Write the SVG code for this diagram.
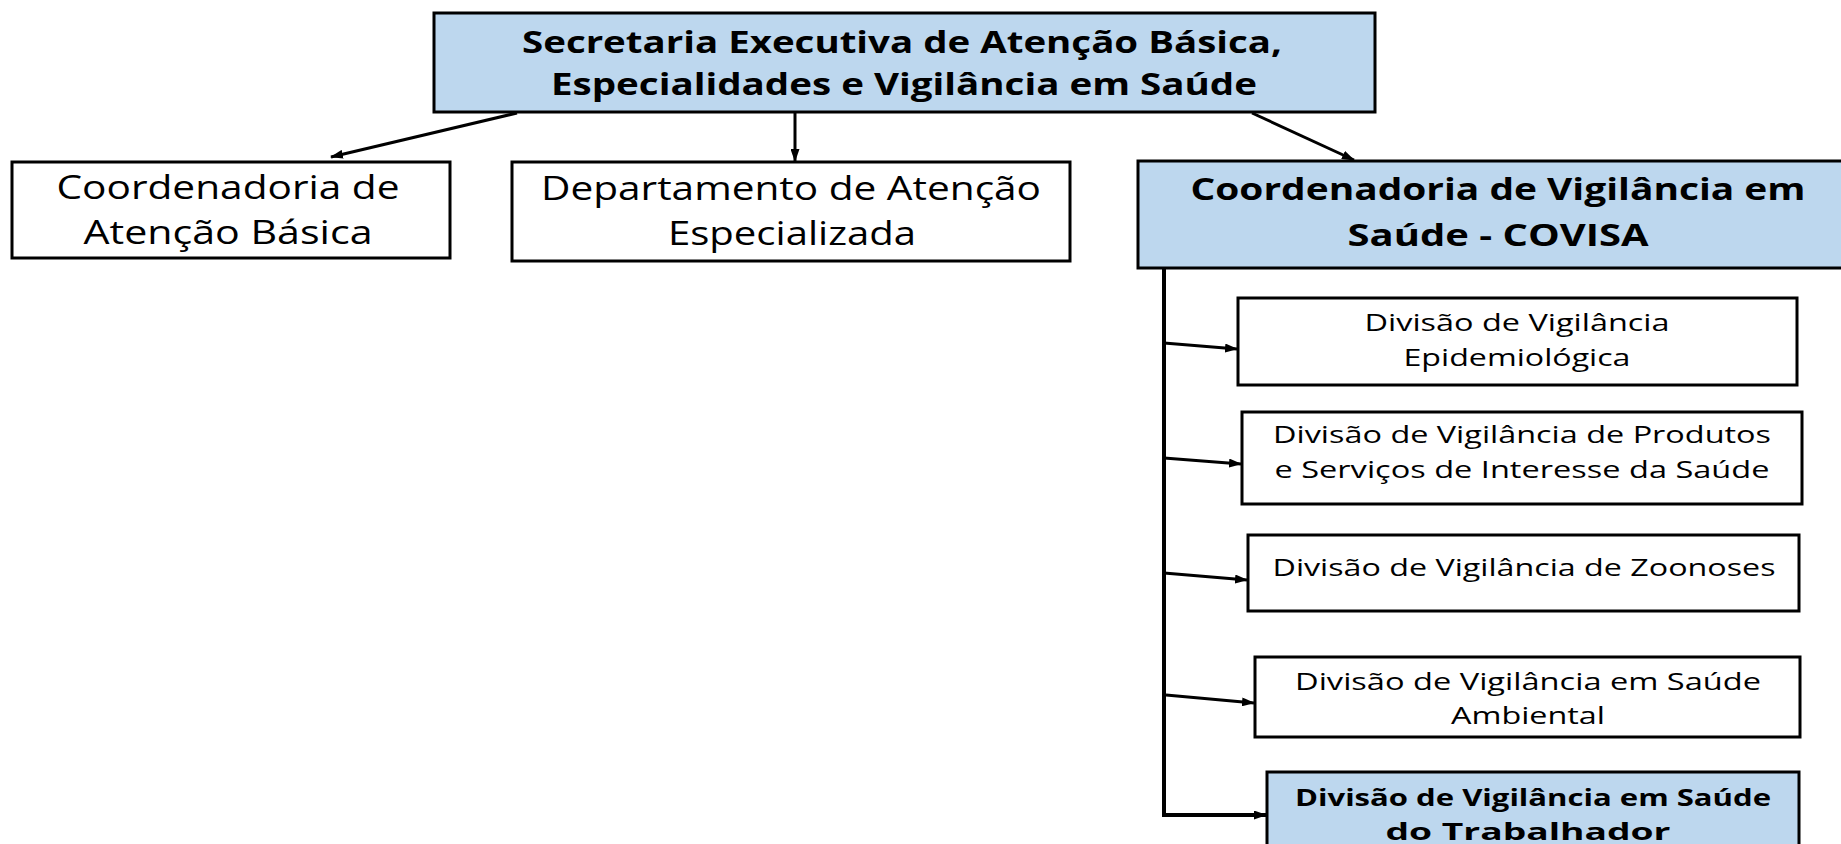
<svg xmlns="http://www.w3.org/2000/svg" width="1841" height="844" viewBox="0 0 1841 844">
<style>
.box{stroke:#000;stroke-width:3;fill:#fff}
.blue{fill:#BDD7EE}
.t{font-family:"Open Sans","Liberation Sans",sans-serif;fill:#000;text-anchor:middle}
.b{font-weight:bold}
.conn{stroke:#000;stroke-width:3;fill:none;marker-end:url(#ah)}
</style>
<defs>
<marker id="ah" markerUnits="userSpaceOnUse" markerWidth="13" markerHeight="9" refX="12" refY="4.5" orient="auto">
<path d="M0,0 L13,4.5 L0,9 z" fill="#000"/>
</marker>
</defs>
<rect width="1841" height="844" fill="#fff"/>
<g id="connectors">
<line class="conn" x1="517" y1="113" x2="331" y2="157"/>
<line class="conn" x1="795" y1="112" x2="795" y2="161"/>
<line class="conn" x1="1252" y1="113" x2="1354" y2="160"/>
<line class="conn" x1="1164" y1="343" x2="1237" y2="349"/>
<line class="conn" x1="1164" y1="458" x2="1241" y2="464"/>
<line class="conn" x1="1164" y1="573" x2="1247" y2="580"/>
<line class="conn" x1="1166" y1="695" x2="1254" y2="703"/>
<path class="conn" style="stroke-width:4" d="M1164,268 V815 H1266"/>
</g>
<g id="n-secretaria">
<rect class="box blue" x="434" y="13" width="941" height="99"/>
<text class="t b" font-size="30" x="902" y="53" textLength="760" lengthAdjust="spacingAndGlyphs">Secretaria Executiva de Atenção Básica,</text>
<text class="t b" font-size="30" x="904" y="95" textLength="706" lengthAdjust="spacingAndGlyphs">Especialidades e Vigilância em Saúde</text>
</g>
<g id="n-cab">
<rect class="box" x="12" y="162" width="438" height="96"/>
<text class="t" font-size="33" x="228" y="199" textLength="343" lengthAdjust="spacingAndGlyphs">Coordenadoria de</text>
<text class="t" font-size="33" x="228" y="244" textLength="289" lengthAdjust="spacingAndGlyphs">Atenção Básica</text>
</g>
<g id="n-dae">
<rect class="box" x="512" y="162" width="558" height="99"/>
<text class="t" font-size="33" x="791" y="200" textLength="500" lengthAdjust="spacingAndGlyphs">Departamento de Atenção</text>
<text class="t" font-size="33" x="792" y="245" textLength="248" lengthAdjust="spacingAndGlyphs">Especializada</text>
</g>
<g id="n-covisa">
<rect class="box blue" x="1138" y="161" width="720" height="107"/>
<text class="t b" font-size="31" x="1498" y="200" textLength="615" lengthAdjust="spacingAndGlyphs">Coordenadoria de Vigilância em</text>
<text class="t b" font-size="31" x="1498" y="246" textLength="301" lengthAdjust="spacingAndGlyphs">Saúde - COVISA</text>
</g>
<g id="n-epidem">
<rect class="box" x="1238" y="298" width="559" height="87"/>
<text class="t" font-size="24" x="1517" y="331" textLength="305" lengthAdjust="spacingAndGlyphs">Divisão de Vigilância</text>
<text class="t" font-size="24" x="1517" y="366" textLength="227" lengthAdjust="spacingAndGlyphs">Epidemiológica</text>
</g>
<g id="n-produtos">
<rect class="box" x="1242" y="412" width="560" height="92"/>
<text class="t" font-size="24" x="1522" y="443" textLength="498" lengthAdjust="spacingAndGlyphs">Divisão de Vigilância de Produtos</text>
<text class="t" font-size="24" x="1522" y="478" textLength="495" lengthAdjust="spacingAndGlyphs">e Serviços de Interesse da Saúde</text>
</g>
<g id="n-zoonoses">
<rect class="box" x="1248" y="535" width="551" height="76"/>
<text class="t" font-size="24" x="1524" y="576" textLength="503" lengthAdjust="spacingAndGlyphs">Divisão de Vigilância de Zoonoses</text>
</g>
<g id="n-ambiental">
<rect class="box" x="1255" y="657" width="545" height="80"/>
<text class="t" font-size="24" x="1528" y="690" textLength="466" lengthAdjust="spacingAndGlyphs">Divisão de Vigilância em Saúde</text>
<text class="t" font-size="24" x="1528" y="724" textLength="154" lengthAdjust="spacingAndGlyphs">Ambiental</text>
</g>
<g id="n-trabalhador">
<rect class="box blue" x="1267" y="772" width="532" height="100"/>
<text class="t b" font-size="24" x="1533" y="806" textLength="476" lengthAdjust="spacingAndGlyphs">Divisão de Vigilância em Saúde</text>
<text class="t b" font-size="24" x="1528" y="840" textLength="285" lengthAdjust="spacingAndGlyphs">do Trabalhador</text>
</g>
</svg>
